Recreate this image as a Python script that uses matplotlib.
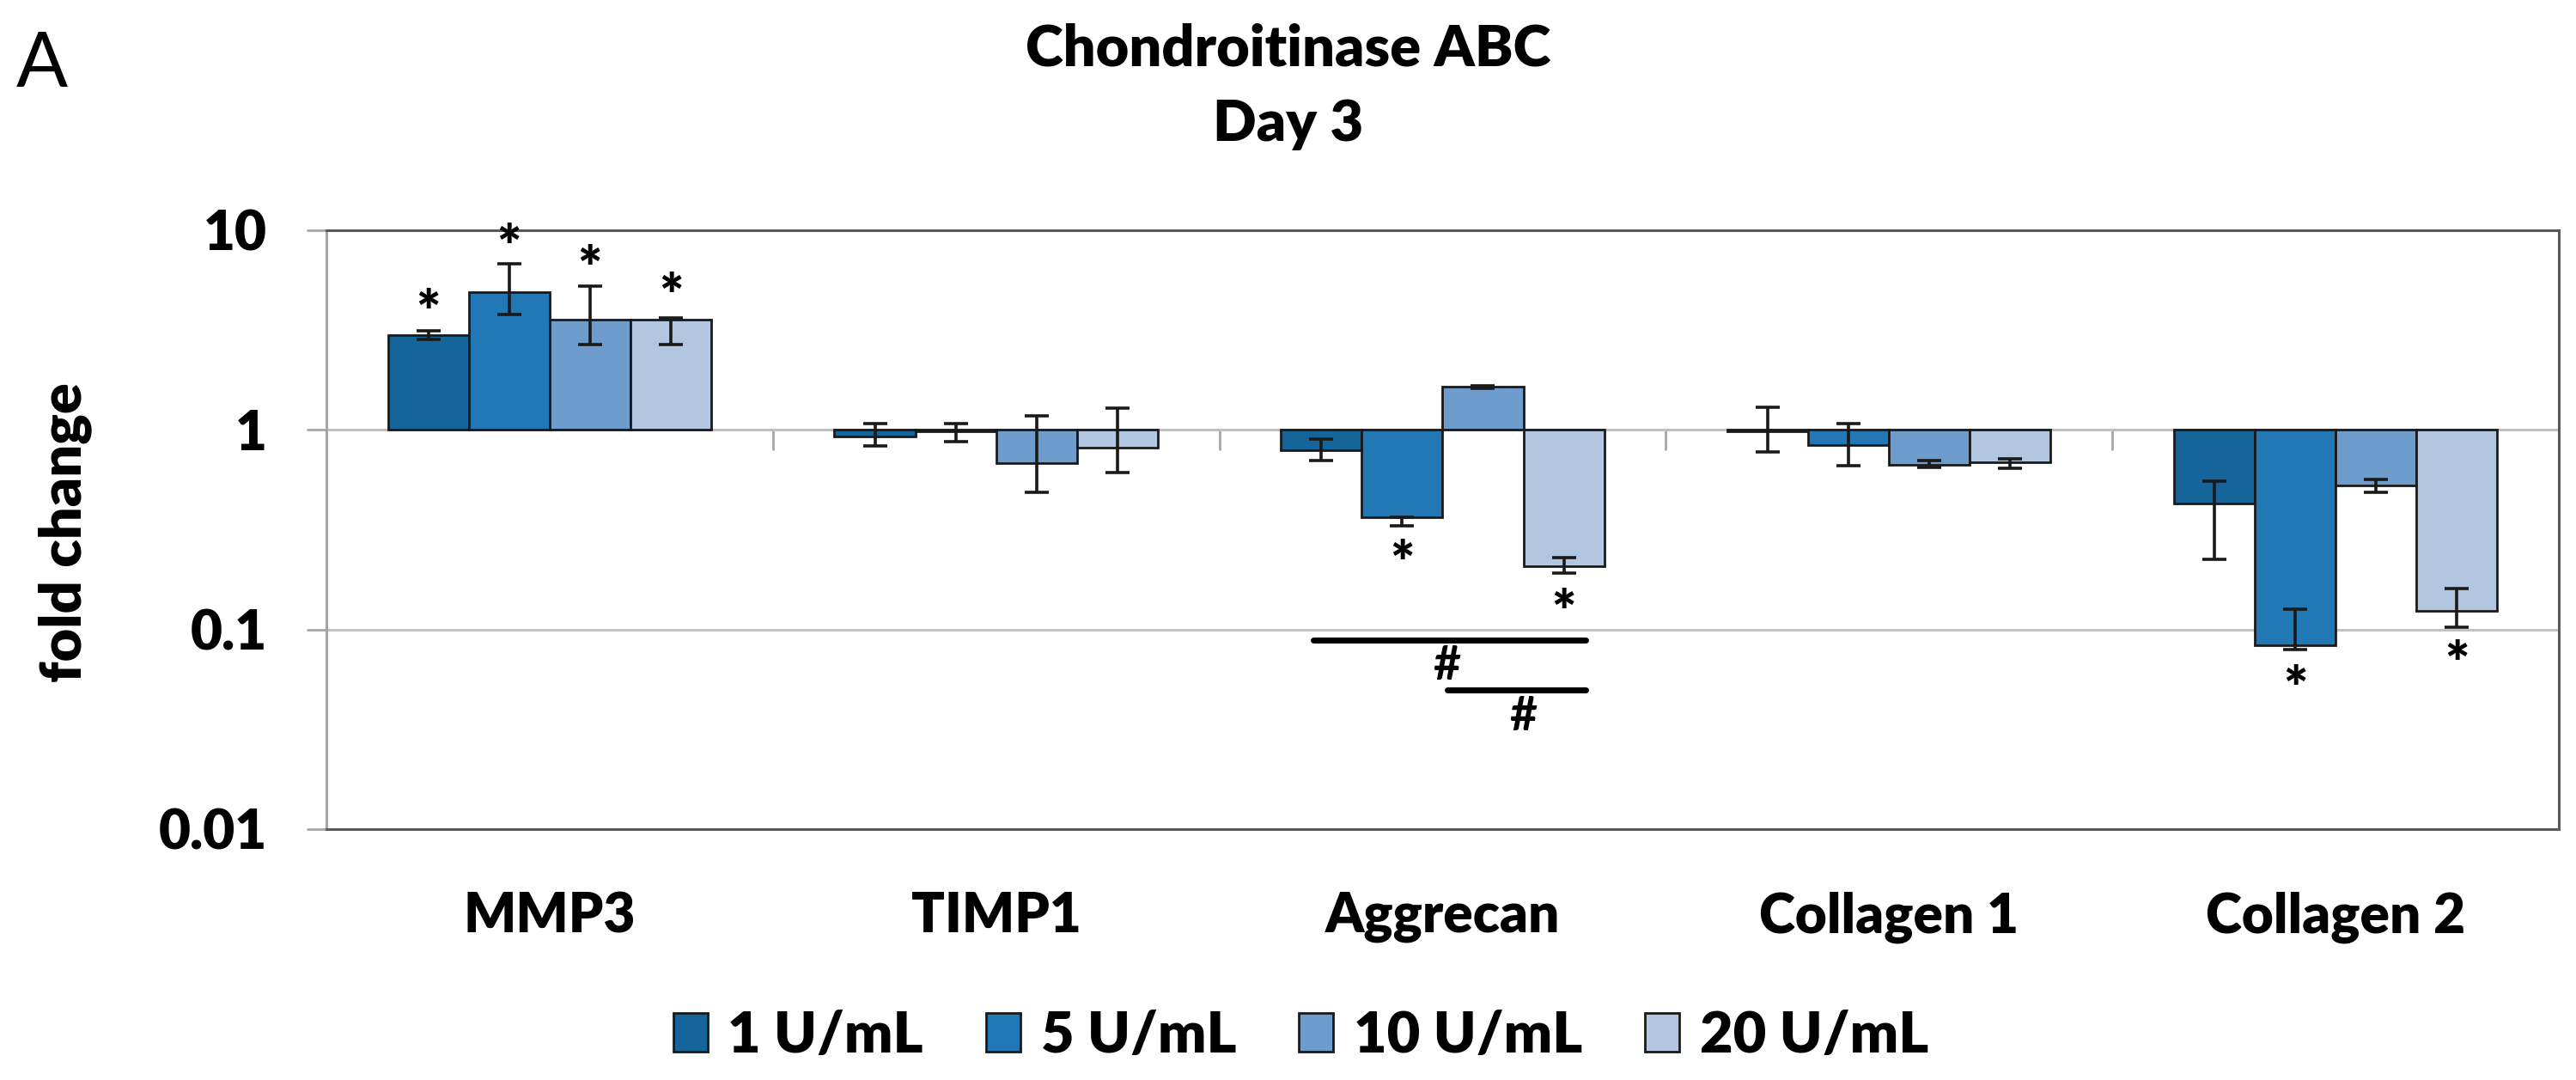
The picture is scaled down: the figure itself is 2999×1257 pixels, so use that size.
import numpy as np
import matplotlib
matplotlib.use('Agg')
import matplotlib.pyplot as plt

plt.rcParams['font.family'] = ['Lato', 'DejaVu Sans']

# categories and series
genes = ['MMP3', 'TIMP1', 'Aggrecan', 'Collagen 1', 'Collagen 2']
doses = ['1 U/mL', '5 U/mL', '10 U/mL', '20 U/mL']

# fold change and the upper / lower end of each error bar, one set per dose
fc_1 = [2.97, 0.927, 0.792, 0.98, 0.429]
hi_1 = [3.15, 1.08, 0.90, 1.30, 0.554]
lo_1 = [2.83, 0.834, 0.70, 0.773, 0.224]

fc_5 = [4.88, 0.983, 0.366, 0.837, 0.0836]
hi_5 = [6.82, 1.08, 0.366, 1.08, 0.126]
lo_5 = [3.77, 0.877, 0.331, 0.662, 0.0796]

fc_10 = [3.55, 0.681, 1.64, 0.666, 0.525]
hi_10 = [5.27, 1.18, 1.66, 0.70, 0.566]
lo_10 = [2.67, 0.486, 1.62, 0.65, 0.488]

fc_20 = [3.55, 0.817, 0.207, 0.686, 0.124]
hi_20 = [3.63, 1.28, 0.229, 0.716, 0.16]
lo_20 = [2.67, 0.613, 0.192, 0.644, 0.103]

# significance stars (* vs control): gene index, dose index, height
star_gene = [0, 0, 0, 0, 2, 2, 4, 4]
star_dose = [0, 1, 2, 3, 1, 3, 1, 3]
star_y = [4.46, 9.47, 7.33, 5.38, 0.245, 0.14, 0.0578, 0.077]

# '#' comparisons between doses for Aggrecan
hash_x0 = [1.71, 2.01]
hash_x1 = [2.32, 2.32]
hash_line_y = [0.0885, 0.0498]
hash_text_x = [2.01, 2.18]
hash_text_y = [0.0677, 0.038]

colors = ['#15649A', '#2178B5', '#6E9DCD', '#B3C6E1']
yticks = [0.01, 0.1, 1, 10]
ytick_labels = ['0.01', '0.1', '1', '10']

W = 'heavy'

fig = plt.figure(figsize=(29.99, 12.57), dpi=100)
ax = fig.add_axes([0.1267, 0.2323, 0.8666, 0.5545])

series = [(fc_1, hi_1, lo_1), (fc_5, hi_5, lo_5),
          (fc_10, hi_10, lo_10), (fc_20, hi_20, lo_20)]
width = 0.181
xc = np.arange(len(genes))
handles = []
for j, (fc, hi, lo) in enumerate(series):
    fc, hi, lo = np.array(fc), np.array(hi), np.array(lo)
    x = xc + (j - 1.5) * width
    b = ax.bar(x, fc - 1, bottom=1, width=width, color=colors[j],
               edgecolor='#1a1a1a', linewidth=2, zorder=2, label=doses[j])
    handles.append(b)
    ax.errorbar(x, fc, yerr=[fc - lo, hi - fc], fmt='none', ecolor='#1a1a1a',
                elinewidth=2.6, capsize=10, capthick=2.6, zorder=3)

ax.set_yscale('log')
ax.set_ylim(0.01, 10)
ax.set_xlim(-0.5, len(genes) - 0.5)
ax.set_yticks(yticks, ytick_labels)
ax.minorticks_off()
ax.tick_params(axis='y', length=16.5, width=2, color='#A6A6A6', pad=33,
               labelsize=46)
for lab in ax.get_yticklabels():
    lab.set_fontweight(W)
ax.set_xticks(xc, genes)
ax.tick_params(axis='x', length=0, pad=52, labelsize=46)
for lab in ax.get_xticklabels():
    lab.set_fontweight(W)
ax.yaxis.grid(True, color='#BFBFBF', linewidth=2)
ax.set_axisbelow(True)
for side in ['top', 'right', 'bottom']:
    ax.spines[side].set_color('#595959')
    ax.spines[side].set_linewidth(2.2)
ax.spines['left'].set_color('#A6A6A6')
ax.spines['left'].set_linewidth(2.2)

# category axis crossing at fold change 1, with ticks between groups
sec = ax.secondary_xaxis(2 / 3)
sec.set_xticks(np.arange(len(genes) + 1) - 0.5)
sec.tick_params(direction='in', length=17, width=2, color='#A6A6A6',
                labeltop=False, labelbottom=False)
for s in sec.spines.values():
    s.set_color('#BFBFBF')
    s.set_linewidth(2)

# stars
for g, d, y in zip(star_gene, star_dose, star_y):
    ax.annotate('*', (xc[g] + (d - 1.5) * width, y), xytext=(0, -26),
                textcoords='offset points', ha='center', va='baseline',
                fontsize=48, fontweight=W, zorder=4)

# hash comparisons
for x0, x1, yl, xt, yt in zip(hash_x0, hash_x1, hash_line_y,
                              hash_text_x, hash_text_y):
    ax.plot([x0, x1], [yl, yl], color='black', linewidth=5,
            solid_capstyle='round', zorder=4)
    ax.annotate('#', (xt, yt), xytext=(0, -14), textcoords='offset points',
                ha='center', va='baseline', fontsize=40, fontweight='bold',
                zorder=4)

fig.text(0.5, 0.9395, 'Chondroitinase ABC', ha='center', va='baseline',
         fontsize=48, fontweight=W)
fig.text(0.5, 0.8695, 'Day 3', ha='center', va='baseline',
         fontsize=48, fontweight=W)
fig.text(0.0063, 0.920, 'A', ha='left', va='baseline', fontsize=64)
fig.text(0.0253, 0.507, 'fold change', rotation=90, ha='center', va='center',
         fontsize=48, fontweight=W)

fig.legend(handles, doses, loc='center', bbox_to_anchor=(0.505, 0.041),
           ncol=4, frameon=False, prop={'size': 48, 'weight': W},
           handlelength=0.6, handleheight=0.66, handletextpad=0.35,
           columnspacing=1.1)

fig.savefig('out.png', dpi=100)
